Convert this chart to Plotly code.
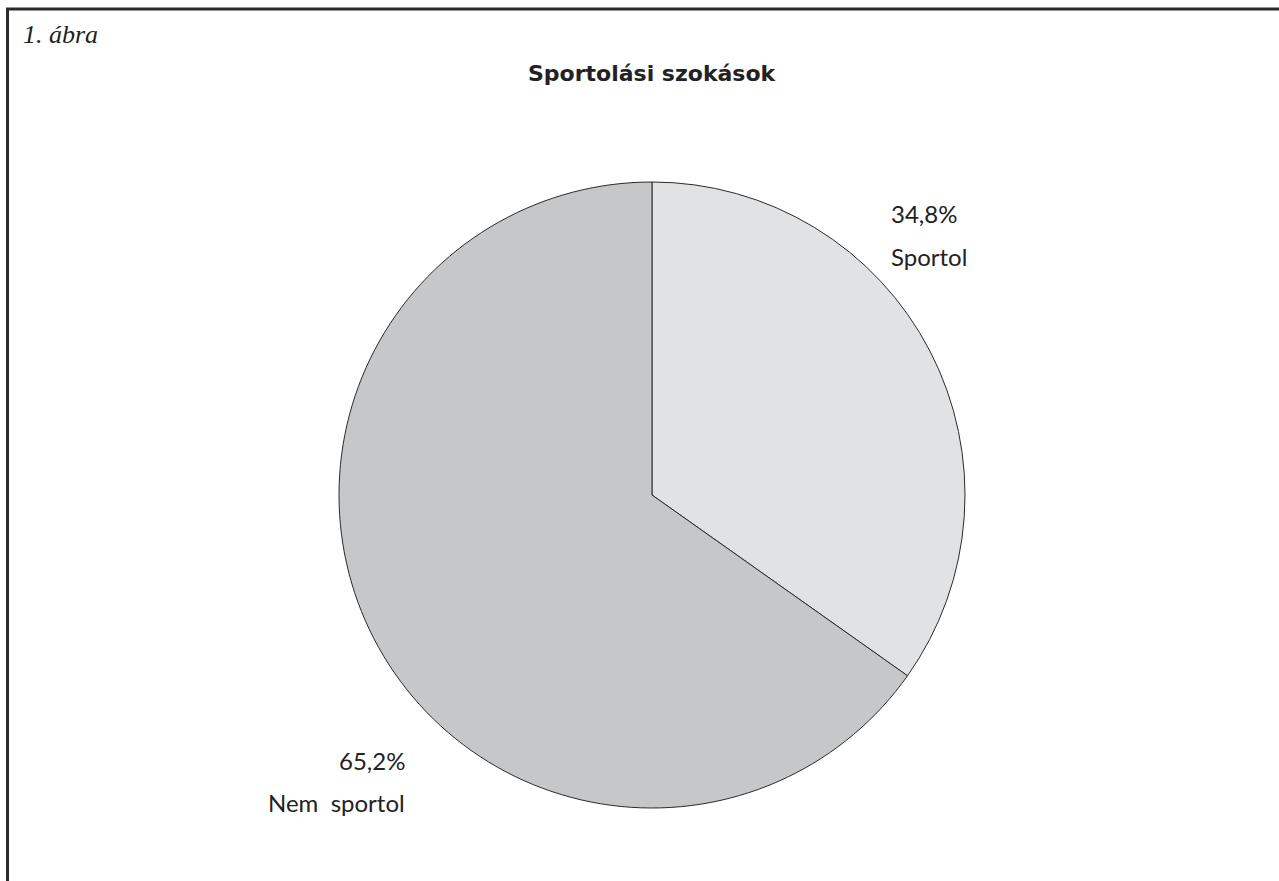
import plotly.graph_objects as go

categories = ["Sportol", "Nem  sportol"]
values = [34.8, 65.2]
pct_labels = ["34,8%", "65,2%"]
colors = ["#e1e2e4", "#c6c7c9"]

W, H = 1279, 881

fig = go.Figure()
fig.add_trace(go.Pie(
    labels=categories,
    values=values,
    sort=False,
    direction="clockwise",
    rotation=0,
    marker=dict(colors=colors, line=dict(color="#2a2a2a", width=1)),
    textinfo="none",
    hoverinfo="label+percent",
    showlegend=False,
    domain=dict(x=[(652 - 313) / W, (652 + 313) / W], y=[1 - 808 / H, 1 - 182 / H]),
))

label_font = dict(family="Lato, Noto Sans, sans-serif", size=24, color="#222222")

# Right label (Sportol)
fig.add_annotation(x=889 / W, y=1 - 214 / H, xref="paper", yref="paper",
                   text=pct_labels[0], showarrow=False, xanchor="left", yanchor="middle", font=label_font)
fig.add_annotation(x=889 / W, y=1 - 256 / H, xref="paper", yref="paper",
                   text=categories[0], showarrow=False, xanchor="left", yanchor="middle", font=label_font)
# Left label (Nem sportol)
fig.add_annotation(x=407 / W, y=1 - 760 / H, xref="paper", yref="paper",
                   text=pct_labels[1], showarrow=False, xanchor="right", yanchor="middle", font=label_font)
fig.add_annotation(x=407 / W, y=1 - 802 / H, xref="paper", yref="paper",
                   text=categories[1].replace("  ", "&nbsp; "), showarrow=False, xanchor="right", yanchor="middle", font=label_font)

# Figure label
fig.add_annotation(x=21 / W, y=1 - 34 / H, xref="paper", yref="paper",
                   text="<i>1. ábra</i>", showarrow=False, xanchor="left", yanchor="middle",
                   font=dict(family="Liberation Serif, serif", size=26, color="#222222"))
# Title
fig.add_annotation(x=652 / W, y=1 - 73 / H, xref="paper", yref="paper",
                   text="<b>Sportolási szokások</b>", showarrow=False, xanchor="center", yanchor="middle",
                   font=dict(family="DejaVu Sans, sans-serif", size=22, color="#222222"))

# Frame (extends past right and bottom edges)
fig.add_shape(type="rect", xref="paper", yref="paper",
              x0=7.5 / W, x1=1.05, y0=-0.05, y1=1 - 9 / H,
              line=dict(color="#2a2a2a", width=3), layer="above")

fig.update_layout(
    width=W, height=H,
    margin=dict(l=0, r=0, t=0, b=0),
    paper_bgcolor="white",
    plot_bgcolor="white",
)

fig.write_html("out.html")
